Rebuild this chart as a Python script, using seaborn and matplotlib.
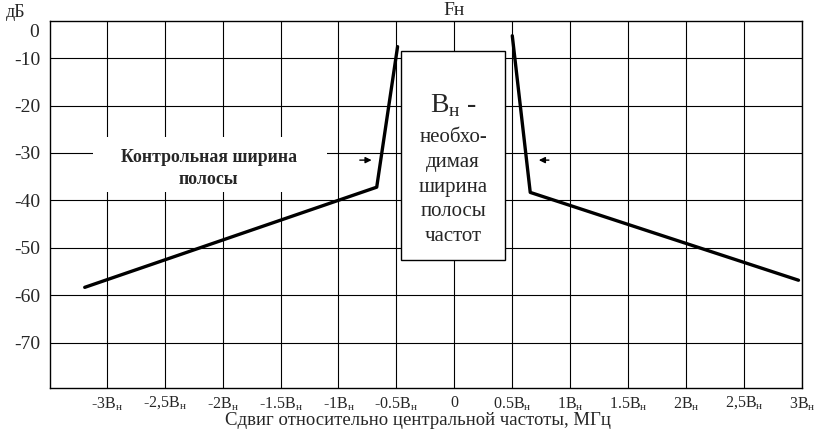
import matplotlib
matplotlib.use("Agg")
import matplotlib.pyplot as plt
import matplotlib.transforms as mtransforms
from matplotlib.patches import Rectangle
import pandas as pd
import seaborn as sns

# mask shape, offsets in units of Bн, level in dB
left_offset = [-3.19, -0.67, -0.49]
left_level = [-58.3, -37.2, -7.6]
right_offset = [0.50, 0.655, 2.97]
right_level = [-5.3, -38.3, -56.8]

x_ticks = [-3, -2.5, -2, -1.5, -1, -0.5, 0, 0.5, 1, 1.5, 2, 2.5, 3]
x_labels = ["-3B", "-2,5B", "-2B", "-1.5B", "-1B", "-0.5B", "0",
            "0.5B", "1B", "1.5B", "2B", "2,5B", "3B"]
y_ticks = [-10, -20, -30, -40, -50, -60, -70]

sns.set_style("white")
plt.rcParams["font.family"] = ["Liberation Serif", "DejaVu Serif"]
plt.rcParams["mathtext.fontset"] = "custom"
plt.rcParams["mathtext.rm"] = "Liberation Serif"

df = pd.concat([
    pd.DataFrame({"offset": left_offset, "level": left_level, "side": "left"}),
    pd.DataFrame({"offset": right_offset, "level": right_level, "side": "right"}),
])

fig = plt.figure(figsize=(8.15, 4.29), dpi=100)
ax = fig.add_axes([0.0613, 0.0956, 0.9227, 0.8554])

sns.lineplot(data=df, x="offset", y="level", units="side", estimator=None,
             sort=False, color="black", linewidth=2.4, ax=ax, zorder=5)

ax.set_xlim(-3.49, 3.0)
ax.set_ylim(-79.5, -2.2)
ax.set_xticks(x_ticks)
ax.set_xticklabels([l + r"$_{\mathrm{н}}$" if l != "0" else l for l in x_labels],
                   fontsize=11.5)
ax.set_yticks(y_ticks)
ax.set_yticklabels([str(v) for v in y_ticks], fontsize=14)
ax.tick_params(length=0, pad=5)
ax.tick_params(axis="y", pad=7)
ax.grid(True, color="black", linewidth=0.8)
ax.set_axisbelow(True)
for s in ax.spines.values():
    s.set_color("black")
    s.set_linewidth(1.0)

# "0" label sits a bit below the top edge in the original
trans = mtransforms.blended_transform_factory(ax.transAxes, ax.transData)
ax.text(-0.015, -4.7, "0", transform=trans, ha="right", va="center", fontsize=14)

ax.set_xlabel("Сдвиг относительно центральной частоты, МГц", fontsize=13.5)
ax.xaxis.set_label_coords(0.49, -0.065)
ax.set_ylabel("")

ax.text(0, 1.005, "Fн", transform=mtransforms.blended_transform_factory(ax.transData, ax.transAxes),
        ha="center", va="bottom", fontsize=14)
fig.text(0.019, 0.972, "дБ", ha="center", va="center", fontsize=13)

# necessary bandwidth box
ax.add_patch(Rectangle((-0.457, -52.5), 0.897, 44.0, facecolor="white",
                       edgecolor="black", linewidth=1.0, zorder=4))
ax.text(-0.01, -20.0, r"B$_{\mathrm{н}}$ -", ha="center", va="center", fontsize=20, zorder=6)
ax.text(-0.01, -37.2, "необхо-\nдимая\nширина\nполосы\nчастот", ha="center", va="center",
        fontsize=15, linespacing=1.4, zorder=6)

# control bandwidth label
ax.add_patch(Rectangle((-3.12, -38.2), 2.025, 11.6, facecolor="white",
                       edgecolor="none", zorder=3))
ax.text(-2.12, -33.2, "Контрольная ширина\nполосы", ha="center", va="center",
        fontsize=12.8, fontweight="bold", linespacing=1.36, zorder=6)

arrow = dict(arrowstyle="-|>", color="black", lw=1.0, mutation_scale=9)
ax.annotate("", xy=(-0.69, -31.5), xytext=(-0.84, -31.5), arrowprops=arrow, zorder=6)
ax.annotate("", xy=(0.705, -31.5), xytext=(0.84, -31.5), arrowprops=arrow, zorder=6)

fig.savefig("out.png", dpi=100)
